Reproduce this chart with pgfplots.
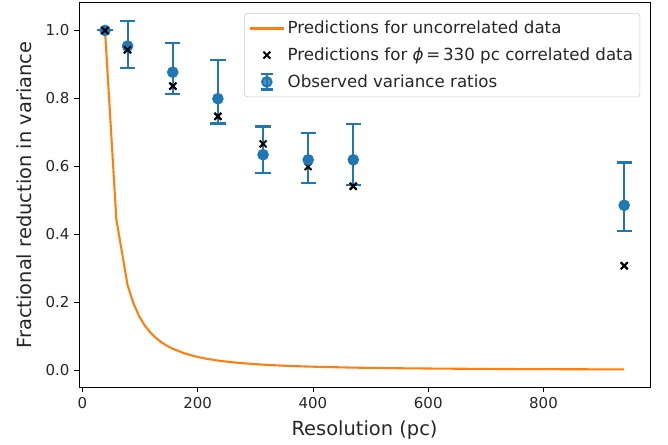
\documentclass[border=0pt]{standalone}
\usepackage{fontspec}
\setmainfont{DejaVu Sans}
\usepackage{pgfplots}
\pgfplotsset{compat=1.18}
\definecolor{mplorange}{HTML}{FF7F0E}
\definecolor{mplblue}{HTML}{1F77B4}
\pgfplotsset{
  legline/.style={legend image code/.code={\draw[##1] (0cm,0cm) -- (0.86cm,0cm);}},
  legmark/.style={legend image code/.code={\draw[##1] plot coordinates {(0.43cm,0cm)};}},
  legerr/.style={legend image code/.code={
    \draw[mplblue, line width=1.5pt] (0.43cm,-5.5pt) -- (0.43cm,5.5pt)
      (0.43cm-4.5pt,-5.5pt) -- (0.43cm+4.5pt,-5.5pt)
      (0.43cm-4.5pt,5.5pt) -- (0.43cm+4.5pt,5.5pt);
    \fill[mplblue] (0.43cm,0cm) circle (3.4pt);}},
}
\begin{document}
\begin{tikzpicture}
\begin{axis}[
  scale only axis,
  width=411pt, height=277pt,
  xmin=-5.7, xmax=984.7,
  ymin=-0.0515, ymax=1.0815,
  xtick={0,200,400,600,800},
  ytick={0,0.2,0.4,0.6,0.8,1.0},
  yticklabel style={/pgf/number format/.cd,fixed,fixed zerofill,precision=1},
  /pgf/number format/assume math mode=true,
  tick label style={font=\fontsize{10.8pt}{13pt}\selectfont, text=black!85},
  label style={font=\fontsize{14pt}{16pt}\selectfont, text=black!85},
  tick pos=left,
  tick align=outside,
  major tick length=3.5pt,
  tick style={black, line width=0.6pt},
  axis line style={line width=0.6pt},
  xlabel={Resolution (pc)},
  ylabel={Fractional reduction in variance},
  xlabel style={yshift=-2pt},
  ylabel style={yshift=3pt},
  legend cell align=left,
  legend style={at={(1,1)}, anchor=north east, xshift=-7pt, yshift=-7.5pt,
    draw=black!20, rounded corners=2pt, fill=white, fill opacity=0.8, text opacity=1,
    font=\fontsize{12pt}{14pt}\selectfont, text=black!85,
    row sep=4.6pt, inner xsep=3pt, inner ysep=3.5pt},
]
\addplot[mplorange, line width=1.5pt, mark=none, legline] coordinates {
(39.2,1.0) (58.8,0.444) (78.3,0.25) (88.1,0.198) (97.9,0.16) (107.7,0.132) (117.5,0.111)
(127.3,0.0947) (137.1,0.0816) (146.9,0.0711) (156.7,0.0625) (176.3,0.0494) (195.8,0.04)
(215.4,0.0331) (235,0.0278) (254.6,0.0237) (274.2,0.0204) (313.4,0.0156) (352.5,0.0123)
(391.7,0.01) (470,0.0069) (548.3,0.0051) (626.7,0.0039) (705,0.0031) (783.3,0.0025)
(861.7,0.0021) (940,0.0017)
};
\addlegendentry{Predictions for uncorrelated data}
\addplot[only marks, mark=x, black, mark size=3.5pt, mark options={line width=1.4pt}, legmark] coordinates {
(39.2,1.0) (78.3,0.943) (156.7,0.836) (235,0.747) (313.4,0.666) (391.7,0.599) (470,0.541) (940,0.307)
};
\addlegendentry{Predictions for \textit{ϕ}\,=\,330 pc correlated data}
\addplot[only marks, mark=*, mplblue, mark size=3.4pt, line width=1.5pt, legerr,
  error bars/.cd, y dir=both, y explicit,
  error bar style={line width=1.5pt, mplblue},
  error mark options={rotate=90, mark size=5.5pt, line width=1.5pt, mplblue},
  ] coordinates {
(39.2,1.0) +- (0,0)
(78.3,0.954) += (0,0.075) -= (0,0.065)
(156.7,0.877) += (0,0.086) -= (0,0.063)
(235,0.799) += (0,0.113) -= (0,0.073)
(313.4,0.634) += (0,0.083) -= (0,0.055)
(391.7,0.619) += (0,0.078) -= (0,0.067)
(470,0.619) += (0,0.105) -= (0,0.075)
(940,0.485) += (0,0.126) -= (0,0.076)
};
\addlegendentry{Observed variance ratios}
\addplot[only marks, mark=x, black, mark size=3.5pt, mark options={line width=1.4pt}, forget plot] coordinates {
(39.2,1.0) (78.3,0.943) (156.7,0.836) (235,0.747) (470,0.541) (940,0.307)
};
\end{axis}
\pgfresetboundingbox
\path ([xshift=-57pt,yshift=-41pt]current axis.south west) rectangle ([xshift=13pt,yshift=2pt]current axis.north east);
\end{tikzpicture}
\end{document}
